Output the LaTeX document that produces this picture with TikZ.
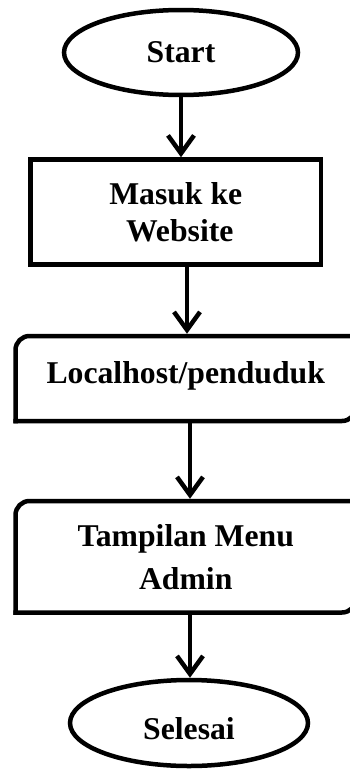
\documentclass[tikz,border=0pt]{standalone}
\usepackage{fontspec}
\setmainfont{Liberation Serif}
\usetikzlibrary{arrows.meta,shapes.geometric}
\tikzset{
  lw/.style={line width=4.5pt},
  bigfont/.style={font=\fontsize{31.7}{37}\selectfont\bfseries},
  term/.style={ellipse, draw, lw, inner sep=0pt, bigfont},
  proc/.style={rectangle, draw, lw, inner sep=0pt, align=center, bigfont},
  rbox/.style={rectangle, inner sep=0pt, outer sep=0pt, align=center, bigfont},
  rline/.style={lw, line cap=rect, rounded corners=14pt},
  arr/.style={lw, -{Straight Barb[length=18pt,width=26pt]}},
}
\begin{document}
\begin{tikzpicture}[x=1pt,y=-1pt]
\useasboundingbox (0,0) rectangle (350,771);
\clip (0,0) rectangle (350,771);
\node[term, minimum width=234pt, minimum height=85pt] (s) at (181,52.5) {Start};
\node[proc, minimum width=290.5pt, minimum height=105pt] (b1) at (175.75,212) {Masuk ke\\\hspace*{8pt}Website};
\node[rbox, minimum width=340.5pt, minimum height=85pt, text depth=12pt] (b2) at (185.75,378.5) {Localhost/penduduk};
\node[rbox, minimum width=340.5pt, minimum height=111.5pt, font=\fontsize{31.7}{43}\selectfont\bfseries] (b3) at (185.75,556.75) {Tampilan Menu\\Admin};
\node[term, minimum width=238pt, minimum height=86pt, text height=33pt] (e) at (189,723) {Selesai};
% outlines of the rounded boxes
\draw[rline] (b2.south west) |- (b2.north east);
\draw[rline] (b2.north east) |- (b2.south west);
\draw[rline] (b3.south west) |- (b3.north east);
\draw[rline] (b3.north east) |- (b3.south west);
% connectors
\draw[arr] (s.south) -- (s.south |- b1.north);
\draw[arr] ([xshift=11.25pt]b1.south) -- ([xshift=1.25pt,yshift=2.25pt]b2.north);
\draw[arr] ([xshift=4.25pt,yshift=-2.25pt]b2.south) -- ([xshift=4.25pt,yshift=2.25pt]b3.north);
\draw[arr] ([xshift=4.25pt,yshift=-2.25pt]b3.south) -- ([xshift=1pt]e.north);
\end{tikzpicture}
\end{document}
